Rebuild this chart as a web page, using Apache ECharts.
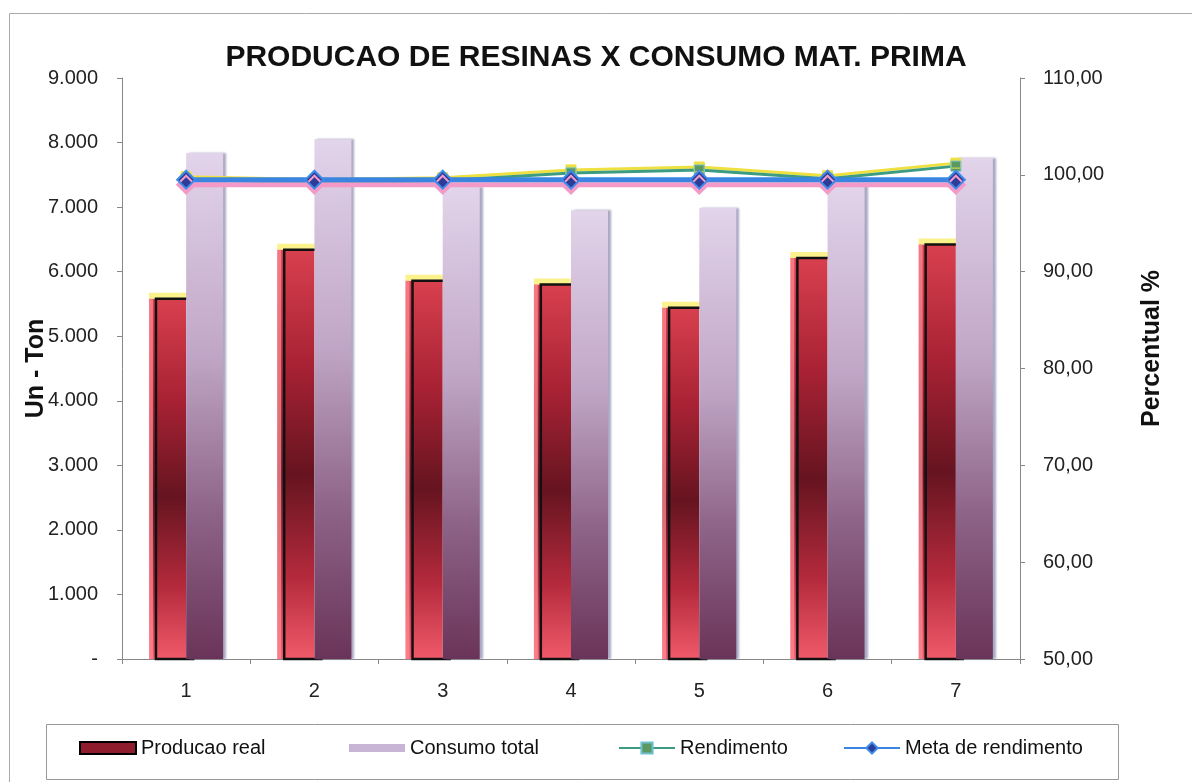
<!DOCTYPE html>
<html>
<head>
<meta charset="utf-8">
<script src="https://cdn.jsdelivr.net/npm/echarts@6/dist/echarts.min.js"></script>
<style>
html,body{margin:0;padding:0;background:#fff;}
#chart{width:1192px;height:782px;}
</style>
</head>
<body>
<div id="chart"></div>
<script>
const categories = ['1', '2', '3', '4', '5', '6', '7'];
const producaoReal = [5580, 6340, 5860, 5800, 5440, 6210, 6420];
const consumoTotal = [7840, 8050, 7310, 6950, 6990, 7340, 7760];
const rendimento = [99.5, 99.2, 99.4, 100.2, 100.5, 99.6, 100.9];
const metaRendimento = [99.5, 99.5, 99.5, 99.5, 99.5, 99.5, 99.5];
const leftTicks = [0, 9000, 1000];
const rightTicks = [50, 110, 10];

const FONT = '"Liberation Sans", Arial, sans-serif';
const chart = echarts.init(document.getElementById('chart'));

const redGrad = new echarts.graphic.LinearGradient(0, 0, 0, 1, [
  {offset: 0, color: '#d8404e'},
  {offset: 0.28, color: '#a82234'},
  {offset: 0.55, color: '#661420'},
  {offset: 0.8, color: '#b42a3c'},
  {offset: 1, color: '#f05a6a'}
]);
const purpleGrad = new echarts.graphic.LinearGradient(0, 0, 0, 1, [
  {offset: 0, color: '#e2d4ea'},
  {offset: 0.4, color: '#c0a6c6'},
  {offset: 0.72, color: '#8c6286'},
  {offset: 1, color: '#6a3458'}
]);

const BAR_FRAC = 0.29;

chart.setOption({
  animation: false,
  backgroundColor: '#fff',
  title: {
    text: 'PRODUCAO DE RESINAS X CONSUMO MAT. PRIMA',
    left: 'center',
    top: 43,
    padding: 0,
    textStyle: {fontFamily: FONT, fontSize: 30, fontWeight: 'bold', color: '#111'}
  },
  graphic: [
    {type: 'rect', shape: {x: 9.5, y: 13.5, width: 1200, height: 800}, style: {fill: 'none', stroke: '#aaa', lineWidth: 1}, z: -10},
    {type: 'rect', shape: {x: 46.5, y: 724.5, width: 1072, height: 55}, style: {fill: 'none', stroke: '#999', lineWidth: 1}, z: -10}
  ],
  legend: [
    {left: 79, top: 738, padding: 0, itemWidth: 56, itemHeight: 12, textStyle: {fontFamily: FONT, fontSize: 20, color: '#111'},
     data: [{name: 'Producao real', icon: 'rect', itemStyle: {color: '#8e1c2c', borderColor: '#000', borderWidth: 2}}]},
    {left: 349, top: 738, padding: 0, itemWidth: 56, itemHeight: 8, textStyle: {fontFamily: FONT, fontSize: 20, color: '#111'},
     data: [{name: 'Consumo total', icon: 'rect', itemStyle: {color: '#c8b4d4'}}]},
    {left: 618, top: 738, padding: 0, itemWidth: 56, itemHeight: 14, textStyle: {fontFamily: FONT, fontSize: 20, color: '#111'},
     data: ['Rendimento']},
    {left: 843, top: 738, padding: 0, itemWidth: 56, itemHeight: 14, textStyle: {fontFamily: FONT, fontSize: 20, color: '#111'},
     data: ['Meta de rendimento']}
  ],
  grid: {left: 122, right: 172, top: 78, bottom: 123, containLabel: false},
  xAxis: {
    type: 'category',
    data: categories,
    axisLine: {lineStyle: {color: '#888', width: 1}},
    axisTick: {show: true, length: 5, lineStyle: {color: '#888'}},
    axisLabel: {fontFamily: FONT, fontSize: 20, color: '#222', margin: 22},
    splitLine: {show: false}
  },
  yAxis: [
    {
      type: 'value', min: leftTicks[0], max: leftTicks[1], interval: leftTicks[2],
      name: 'Un - Ton', nameLocation: 'middle', nameGap: 73, nameMoveOverlap: false,
      nameTextStyle: {fontFamily: FONT, fontSize: 25, fontWeight: 'bold', color: '#111'},
      axisLine: {show: true, lineStyle: {color: '#888'}},
      axisTick: {show: true, length: 5, lineStyle: {color: '#888'}},
      splitLine: {show: false},
      axisLabel: {fontFamily: FONT, fontSize: 20, color: '#222', margin: 24,
        formatter: v => v === 0 ? '-' : (v / 1000) + '.000'}
    },
    {
      type: 'value', min: rightTicks[0], max: rightTicks[1], interval: rightTicks[2],
      position: 'right',
      name: 'Percentual %', nameLocation: 'middle', nameGap: 120, nameMoveOverlap: false,
      nameTextStyle: {fontFamily: FONT, fontSize: 25, fontWeight: 'bold', color: '#111', padding: [0, 0, 0, 40]},
      axisLine: {show: true, lineStyle: {color: '#888'}},
      axisTick: {show: true, length: 5, lineStyle: {color: '#888'}},
      splitLine: {show: false},
      axisLabel: {fontFamily: FONT, fontSize: 20, color: '#222', margin: 23,
        formatter: v => v.toFixed(2).replace('.', ',')}
    }
  ],
  series: [
    {
      name: 'Producao real', type: 'bar', yAxisIndex: 0, z: 2,
      data: producaoReal, barWidth: 37, barGap: '0%',
      itemStyle: {color: redGrad}
    },
    {
      name: 'Producao real', type: 'custom', yAxisIndex: 0, z: 3,
      data: producaoReal.map((v, i) => [i, v]),
      renderItem: function (params, api) {
        const top = api.coord([api.value(0), api.value(1)]);
        const base = api.coord([api.value(0), 0]);
        const bw = api.size([1, 0])[0] * BAR_FRAC;
        const cx = top[0];
        return {
          type: 'group',
          children: [
            {type: 'rect', shape: {x: cx - bw, y: top[1] - 6, width: bw + 2, height: 6},
             style: {fill: 'rgba(250,240,120,0.85)'}},
            {type: 'rect', shape: {x: cx - bw, y: top[1], width: 4, height: base[1] - top[1]},
             style: {fill: 'rgba(255,140,150,0.75)'}},
            {type: 'rect', shape: {x: cx - bw + 7, y: top[1], width: bw, height: base[1] - top[1]},
             style: {fill: 'none', stroke: '#111', lineWidth: 2.5}}
          ]
        };
      }
    },
    {
      name: 'Consumo total', type: 'bar', yAxisIndex: 0, z: 4,
      data: consumoTotal, barWidth: 37, barGap: '0%',
      itemStyle: {color: purpleGrad, shadowColor: 'rgba(140,140,175,0.75)', shadowOffsetX: 3, shadowBlur: 2}
    },
    {
      name: 'Rendimento', type: 'line', yAxisIndex: 1, z: 5,
      data: rendimento,
      symbol: 'rect', symbolSize: 10,
      lineStyle: {color: '#3c9c82', width: 3, shadowColor: '#eee040', shadowOffsetY: -3, shadowBlur: 0},
      itemStyle: {color: '#5a9a62', borderColor: '#6fc0d0', borderWidth: 1, shadowColor: '#eee040', shadowOffsetY: -3}
    },
    {
      name: 'Meta de rendimento', type: 'line', yAxisIndex: 1, z: 6,
      data: metaRendimento,
      symbol: 'diamond', symbolSize: 18,
      lineStyle: {color: '#3a84e2', width: 5, shadowColor: '#f39ac8', shadowOffsetY: 5, shadowBlur: 0},
      itemStyle: {color: '#2c3c98', borderColor: '#3e8ae8', borderWidth: 2, shadowColor: '#f39ac8', shadowOffsetY: 5}
    }
  ]
});
</script>
</body>
</html>
